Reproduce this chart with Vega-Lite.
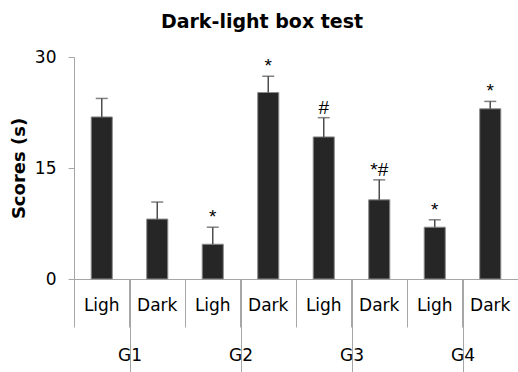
{
  "$schema": "https://vega.github.io/schema/vega-lite/v6.json",
  "width": 444,
  "height": 222,
  "autosize": "none",
  "padding": {"left": 74, "top": 57, "right": 0, "bottom": 93},
  "background": "white",
  "title": {
    "text": "Dark-light box test",
    "font": "DejaVu Sans",
    "fontSize": 19,
    "fontWeight": "bold",
    "color": "black",
    "anchor": "middle",
    "frame": "group",
    "offset": 16,
    "dx": -34
  },
  "config": {
    "view": {"stroke": null},
    "axis": {"grid": false}
  },
  "data": {
    "values": [
      {"group": "G1", "cat": "G1 Ligh", "value": 21.9, "hi": 24.4, "mark": ""},
      {"group": "G1", "cat": "G1 Dark", "value": 8.1, "hi": 10.4, "mark": ""},
      {"group": "G2", "cat": "G2 Ligh", "value": 4.7, "hi": 7.0, "mark": "*"},
      {"group": "G2", "cat": "G2 Dark", "value": 25.2, "hi": 27.4, "mark": "*"},
      {"group": "G3", "cat": "G3 Ligh", "value": 19.2, "hi": 21.8, "mark": "#"},
      {"group": "G3", "cat": "G3 Dark", "value": 10.7, "hi": 13.4, "mark": "*#"},
      {"group": "G4", "cat": "G4 Ligh", "value": 7.0, "hi": 8.0, "mark": "*"},
      {"group": "G4", "cat": "G4 Dark", "value": 23.0, "hi": 24.0, "mark": "*"}
    ]
  },
  "layer": [
    {
      "encoding": {
        "x": {
          "field": "cat",
          "type": "nominal",
          "sort": null,
          "scale": {"paddingInner": 0, "paddingOuter": 0},
          "axis": {
            "title": null,
            "orient": "bottom",
            "bandPosition": 0,
            "tickSize": 48,
            "tickColor": "#a6a6a6",
            "domainColor": "#a6a6a6",
            "labelExpr": "split(datum.value, ' ')[1]",
            "labelFont": "DejaVu Sans",
            "labelFontSize": 17,
            "labelColor": "black",
            "labelBaseline": "middle",
            "labelPadding": -22,
            "labelAngle": 0,
            "labelOverlap": false
          }
        }
      },
      "layer": [
        {
          "mark": {"type": "bar", "width": {"band": 0.38}, "fill": "#262626", "stroke": "#8c8c8c", "strokeWidth": 1},
          "encoding": {
            "y": {
              "field": "value",
              "type": "quantitative",
              "scale": {"domain": [0, 30], "nice": false},
              "axis": {
                "values": [0, 15, 30],
                "title": "Scores (s)",
                "titleFont": "DejaVu Sans",
                "titleFontSize": 18,
                "titleFontWeight": "bold",
                "titleColor": "black",
                "titlePadding": 6,
                "labelFont": "DejaVu Sans",
                "labelFontSize": 17,
                "labelColor": "black",
                "labelPadding": 12,
                "tickSize": 6,
                "tickColor": "#a6a6a6",
                "domainColor": "#a6a6a6"
              }
            }
          }
        },
        {
          "mark": {"type": "rule", "color": "#4d4d4d", "strokeWidth": 1.5},
          "encoding": {
            "y": {"field": "value", "type": "quantitative"},
            "y2": {"field": "hi"}
          }
        },
        {
          "mark": {"type": "tick", "orient": "horizontal", "color": "#4d4d4d", "size": 12, "thickness": 1.5},
          "encoding": {
            "y": {"field": "hi", "type": "quantitative"}
          }
        },
        {
          "transform": [{"filter": "datum.mark != ''"}],
          "mark": {"type": "text", "font": "Liberation Sans", "fontSize": 19, "color": "black", "baseline": "alphabetic", "dy": -4},
          "encoding": {
            "y": {"field": "hi", "type": "quantitative"},
            "text": {"field": "mark"}
          }
        }
      ]
    },
    {
      "mark": {"type": "text", "text": ""},
      "encoding": {
        "x": {
          "field": "group",
          "type": "nominal",
          "sort": null,
          "scale": {"paddingInner": 0, "paddingOuter": 0},
          "axis": {
            "title": null,
            "orient": "bottom",
            "bandPosition": 0,
            "tickSize": 93,
            "tickColor": "#a6a6a6",
            "domain": false,
            "labelFont": "DejaVu Sans",
            "labelFontSize": 17,
            "labelColor": "black",
            "labelBaseline": "middle",
            "labelPadding": -17,
            "labelAngle": 0
          }
        }
      }
    }
  ],
  "resolve": {"scale": {"x": "independent"}}
}
